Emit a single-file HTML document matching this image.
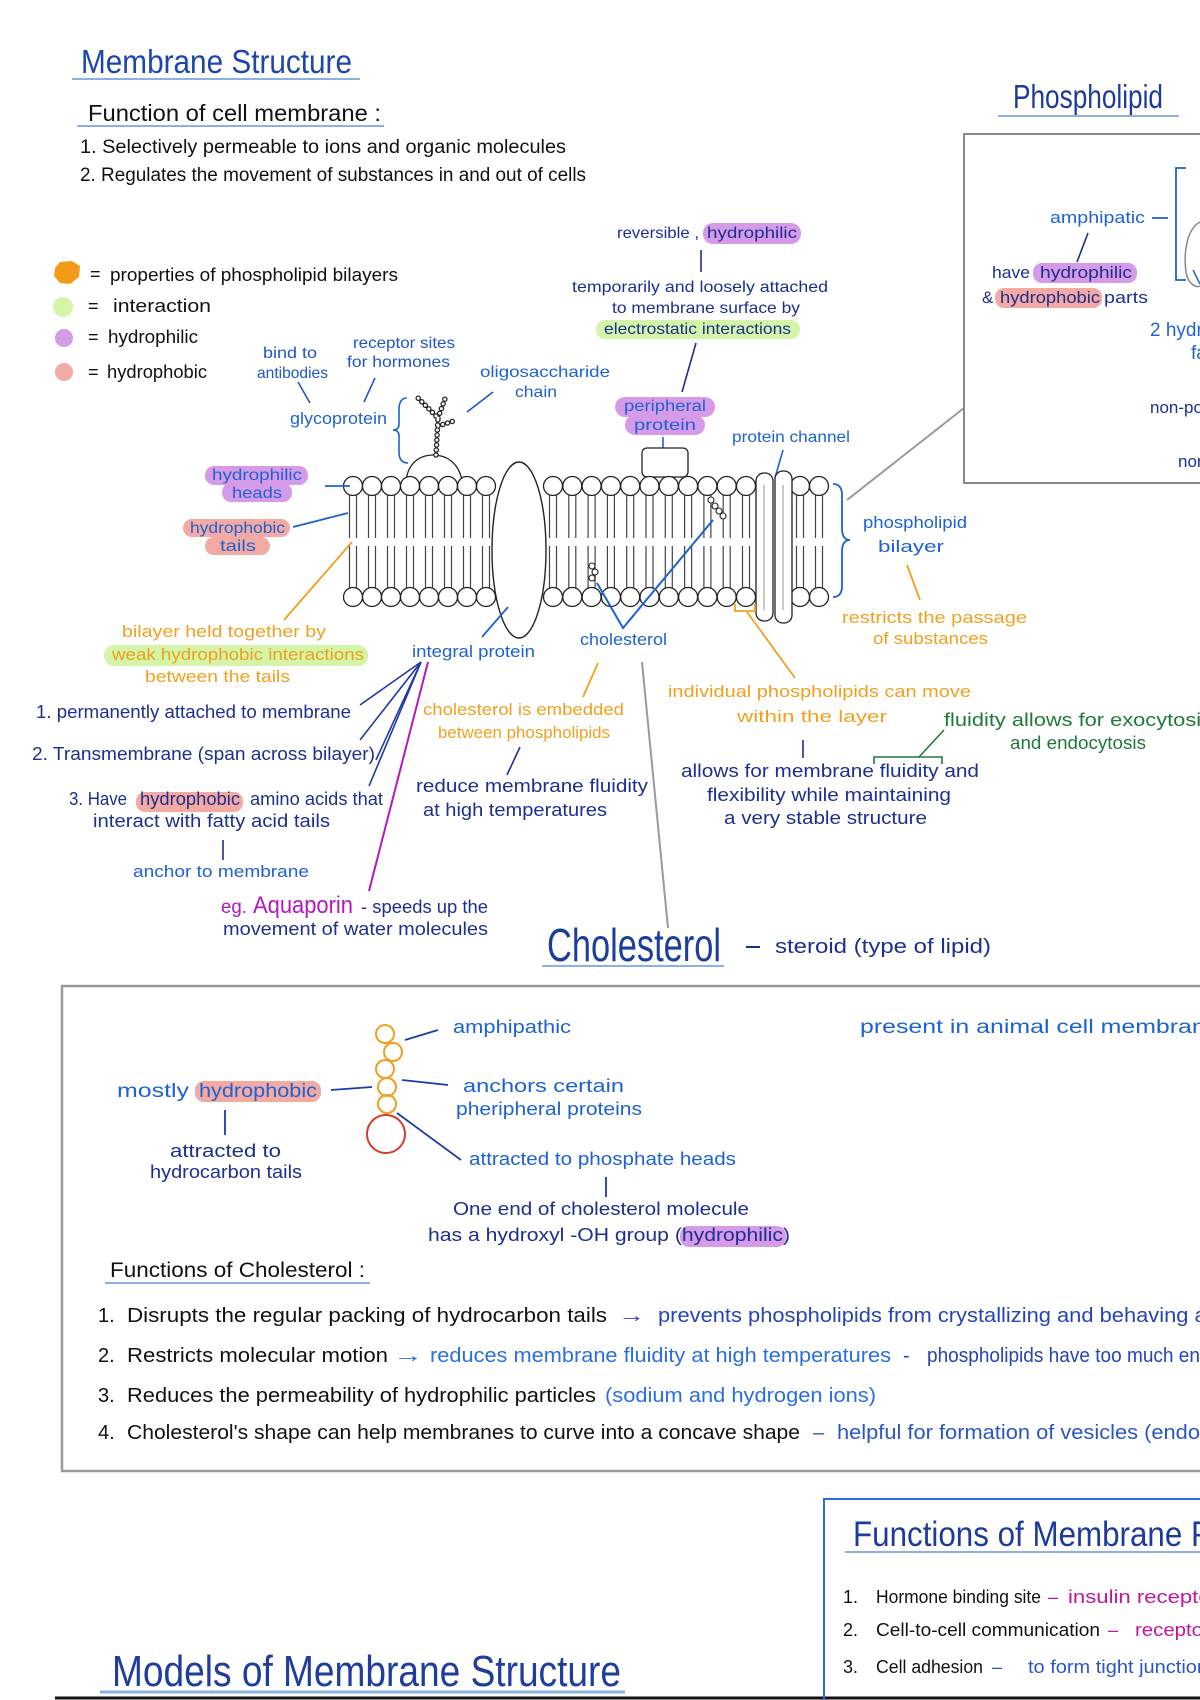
<!DOCTYPE html>
<html><head><meta charset="utf-8"><style>
html,body{margin:0;padding:0;background:#fff;}
svg{display:block;}
text{font-family:"Liberation Sans",sans-serif;}
</style></head><body>
<svg width="1200" height="1700" viewBox="0 0 1200 1700" xmlns="http://www.w3.org/2000/svg">
<defs>
<g id="p">
<line x1="-3.5" y1="495" x2="-3.5" y2="538" stroke="#444" stroke-width="1.2"/>
<line x1="3.5" y1="495" x2="3.5" y2="538" stroke="#444" stroke-width="1.2"/>
<line x1="-3.5" y1="546" x2="-3.5" y2="588" stroke="#444" stroke-width="1.2"/>
<line x1="3.5" y1="546" x2="3.5" y2="588" stroke="#444" stroke-width="1.2"/>
<circle cx="0" cy="486" r="9.5" fill="#fff" stroke="#222" stroke-width="1.3"/>
<circle cx="0" cy="597" r="9.5" fill="#fff" stroke="#222" stroke-width="1.3"/>
</g>
</defs>
<rect width="1200" height="1700" fill="#fff"/>

<!-- Header -->
<text x="81" y="73" font-size="33" fill="#1c47a8" textLength="271" lengthAdjust="spacingAndGlyphs">Membrane Structure</text>
<line x1="72" y1="79" x2="360" y2="79" stroke="#8db0e2" stroke-width="2"/>
<text x="88" y="121" font-size="23" fill="#111" textLength="293" lengthAdjust="spacingAndGlyphs">Function of cell membrane :</text>
<line x1="77" y1="126" x2="384" y2="126" stroke="#8db0e2" stroke-width="2"/>
<text x="80" y="153" font-size="19" fill="#111" textLength="486" lengthAdjust="spacingAndGlyphs">1. Selectively permeable to ions and organic molecules</text>
<text x="80" y="181" font-size="19" fill="#111" textLength="506" lengthAdjust="spacingAndGlyphs">2. Regulates the movement of substances in and out of cells</text>

<!-- Legend -->
<polygon points="55,268 60,262 72,261 80,266 79,277 70,284 60,283 54,276" fill="#f39a18"/>
<circle cx="63" cy="307" r="10" fill="#d4f5a8"/>
<circle cx="64" cy="338" r="9" fill="#d59be8"/>
<circle cx="64" cy="372" r="9" fill="#f2aaa3"/>
<text x="90" y="280" font-size="18" fill="#111">=</text>
<text x="110" y="281" font-size="18" fill="#111" textLength="288" lengthAdjust="spacingAndGlyphs">properties of phospholipid bilayers</text>
<text x="88" y="312" font-size="18" fill="#111">=</text>
<text x="113" y="312" font-size="18" fill="#111" textLength="98" lengthAdjust="spacingAndGlyphs">interaction</text>
<text x="88" y="343" font-size="18" fill="#111">=</text>
<text x="108" y="343" font-size="18" fill="#111" textLength="90" lengthAdjust="spacingAndGlyphs">hydrophilic</text>
<text x="88" y="378" font-size="18" fill="#111">=</text>
<text x="107" y="378" font-size="18" fill="#111" textLength="100" lengthAdjust="spacingAndGlyphs">hydrophobic</text>

<!-- Glycoprotein labels -->
<g fill="#1f55c8" font-size="16">
<text x="263" y="358" textLength="54" lengthAdjust="spacingAndGlyphs">bind to</text>
<text x="257" y="378" textLength="71" lengthAdjust="spacingAndGlyphs">antibodies</text>
<text x="353" y="348" textLength="102" lengthAdjust="spacingAndGlyphs">receptor sites</text>
<text x="347" y="367" textLength="103" lengthAdjust="spacingAndGlyphs">for hormones</text>
</g>
<g stroke="#1f55c8" stroke-width="1.6">
<line x1="298" y1="382" x2="310" y2="403"/>
<line x1="375" y1="378" x2="364" y2="402"/>
<line x1="467" y1="412" x2="493" y2="392"/>
</g>
<text x="290" y="424" font-size="17" fill="#1d62d2" textLength="97" lengthAdjust="spacingAndGlyphs">glycoprotein</text>
<path d="M407,398 Q399,398 399,410 L399,424 Q399,430 393,430 Q399,430 399,436 L399,452 Q399,463 408,463" fill="none" stroke="#1d62d2" stroke-width="1.6"/>
<text x="480" y="377" font-size="16" fill="#1d62d2" textLength="130" lengthAdjust="spacingAndGlyphs">oligosaccharide</text>
<text x="515" y="397" font-size="16" fill="#1d62d2" textLength="42" lengthAdjust="spacingAndGlyphs">chain</text>

<!-- Peripheral protein labels -->
<text x="617" y="238" font-size="16" fill="#1b2f90" textLength="82" lengthAdjust="spacingAndGlyphs">reversible ,</text>
<rect x="703" y="223" width="98" height="21" rx="10" fill="#d59be8"/>
<text x="707" y="238" font-size="16" fill="#1b2f90" textLength="90" lengthAdjust="spacingAndGlyphs">hydrophilic</text>
<line x1="701" y1="250" x2="701" y2="272" stroke="#1b2f90" stroke-width="1.6"/>
<text x="572" y="292" font-size="16" fill="#1b2f90" textLength="256" lengthAdjust="spacingAndGlyphs">temporarily and loosely attached</text>
<text x="612" y="313" font-size="16" fill="#1b2f90" textLength="188" lengthAdjust="spacingAndGlyphs">to membrane surface by</text>
<rect x="596" y="320" width="204" height="19" rx="9" fill="#d4f5a8"/>
<text x="604" y="334" font-size="16" fill="#1b2f90" textLength="187" lengthAdjust="spacingAndGlyphs">electrostatic interactions</text>
<line x1="696" y1="343" x2="682" y2="392" stroke="#1b2f90" stroke-width="1.6"/>
<rect x="615" y="397" width="100" height="20" rx="10" fill="#d59be8"/>
<rect x="625" y="415" width="80" height="20" rx="10" fill="#d59be8"/>
<text x="624" y="411" font-size="16" fill="#1d62d2" textLength="82" lengthAdjust="spacingAndGlyphs">peripheral</text>
<text x="634" y="430" font-size="16" fill="#1d62d2" textLength="62" lengthAdjust="spacingAndGlyphs">protein</text>
<line x1="663" y1="437" x2="663" y2="453" stroke="#1d62d2" stroke-width="1.6"/>
<text x="732" y="442" font-size="16" fill="#1d62d2" textLength="118" lengthAdjust="spacingAndGlyphs">protein channel</text>
<line x1="783" y1="450" x2="775" y2="478" stroke="#1d62d2" stroke-width="1.6"/>

<!-- Glycoprotein bump -->
<path d="M406,480 C409,460 423,455 433,455 C446,455 458,462 462,480" fill="#fff" stroke="#222" stroke-width="1.3"/>
<!-- Peripheral protein rect -->
<rect x="642" y="448" width="46" height="29" rx="5" fill="#fff" stroke="#222" stroke-width="1.3"/>

<!-- Membrane -->
<use href="#p" x="353"/><use href="#p" x="372"/><use href="#p" x="391"/><use href="#p" x="410"/>
<use href="#p" x="429"/><use href="#p" x="448"/><use href="#p" x="467"/><use href="#p" x="486"/>
<use href="#p" x="553"/><use href="#p" x="572.3"/><use href="#p" x="591.6"/><use href="#p" x="610.9"/>
<use href="#p" x="630.2"/><use href="#p" x="649.5"/><use href="#p" x="668.8"/><use href="#p" x="688.1"/>
<use href="#p" x="707.4"/><use href="#p" x="726.7"/><use href="#p" x="746"/>
<use href="#p" x="800"/><use href="#p" x="819"/>
<ellipse cx="519" cy="550" rx="27" ry="88" fill="#fff" stroke="#222" stroke-width="1.4"/>
<rect x="756" y="473" width="17" height="148" rx="8" fill="#fff" stroke="#222" stroke-width="1.3"/>
<rect x="775" y="471" width="17" height="152" rx="8" fill="#fff" stroke="#222" stroke-width="1.3"/>
<line x1="764" y1="485" x2="764" y2="610" stroke="#777" stroke-width="0.8"/>
<line x1="783" y1="485" x2="783" y2="610" stroke="#777" stroke-width="0.8"/>

<!-- Glycoprotein chain -->
<g fill="none" stroke-linecap="round">
<path d="M436,455 L438,418 L417,397 M438,418 L446,396 M438,426 L457,420" stroke="#222" stroke-width="5.5" stroke-dasharray="0 5"/>
<path d="M436,455 L438,418 L417,397 M438,418 L446,396 M438,426 L457,420" stroke="#fff" stroke-width="3" stroke-dasharray="0 5"/>
</g>
<!-- small cholesterol in membrane -->
<g fill="#fff" stroke="#222" stroke-width="1.1">
<circle cx="592" cy="566" r="3"/><circle cx="595" cy="572" r="3"/><circle cx="592" cy="578" r="3"/>
<circle cx="711" cy="500" r="3"/><circle cx="715" cy="506" r="3"/><circle cx="719" cy="511" r="3"/><circle cx="723" cy="516" r="3"/>
</g>
<polyline points="597,583 623,628 713,520" fill="none" stroke="#1d62d2" stroke-width="2"/>
<text x="580" y="645" font-size="17" fill="#1d62d2" textLength="87" lengthAdjust="spacingAndGlyphs">cholesterol</text>

<!-- Bilayer brace and labels -->
<path d="M833,484 Q842,484 842,495 L842,528 Q842,540 850,540 Q842,540 842,552 L842,586 Q842,597 833,597" fill="none" stroke="#1d62d2" stroke-width="1.8"/>
<text x="863" y="528" font-size="17" fill="#1d62d2" textLength="104" lengthAdjust="spacingAndGlyphs">phospholipid</text>
<text x="878" y="552" font-size="17" fill="#1d62d2" textLength="66" lengthAdjust="spacingAndGlyphs">bilayer</text>
<line x1="847" y1="500" x2="964" y2="408" stroke="#999" stroke-width="2"/>
<line x1="907" y1="565" x2="920" y2="600" stroke="#f0a01e" stroke-width="1.8"/>
<text x="842" y="623" font-size="17" fill="#f0a01e" textLength="185" lengthAdjust="spacingAndGlyphs">restricts the passage</text>
<text x="873" y="644" font-size="17" fill="#f0a01e" textLength="115" lengthAdjust="spacingAndGlyphs">of substances</text>

<!-- Left heads/tails labels -->
<rect x="205" y="466" width="103" height="19" rx="9" fill="#d59be8"/>
<rect x="222" y="483" width="70" height="19" rx="9" fill="#d59be8"/>
<text x="212" y="480" font-size="16" fill="#1d62d2" textLength="90" lengthAdjust="spacingAndGlyphs">hydrophilic</text>
<text x="232" y="498" font-size="16" fill="#1d62d2" textLength="50" lengthAdjust="spacingAndGlyphs">heads</text>
<line x1="325" y1="486" x2="350" y2="486" stroke="#1d62d2" stroke-width="1.8"/>
<rect x="183" y="519" width="107" height="18" rx="9" fill="#f2aaa3"/>
<rect x="205" y="537" width="65" height="18" rx="9" fill="#f2aaa3"/>
<text x="190" y="533" font-size="16" fill="#1d62d2" textLength="95" lengthAdjust="spacingAndGlyphs">hydrophobic</text>
<text x="220" y="551" font-size="16" fill="#1d62d2" textLength="36" lengthAdjust="spacingAndGlyphs">tails</text>
<line x1="293" y1="527" x2="348" y2="513" stroke="#1d62d2" stroke-width="1.8"/>
<line x1="352" y1="542" x2="284" y2="620" stroke="#f0a01e" stroke-width="1.8"/>

<text x="122" y="637" font-size="17" fill="#f0a01e" textLength="204" lengthAdjust="spacingAndGlyphs">bilayer held together by</text>
<rect x="104" y="645" width="264" height="21" rx="10" fill="#d4f5a8"/>
<text x="112" y="660" font-size="17" fill="#f0a01e" textLength="252" lengthAdjust="spacingAndGlyphs">weak hydrophobic interactions</text>
<text x="145" y="682" font-size="17" fill="#f0a01e" textLength="145" lengthAdjust="spacingAndGlyphs">between the tails</text>

<text x="412" y="657" font-size="17" fill="#1d62d2" textLength="123" lengthAdjust="spacingAndGlyphs">integral protein</text>
<line x1="508" y1="607" x2="482" y2="637" stroke="#1d62d2" stroke-width="1.8"/>
<g stroke="#1d3aa8" stroke-width="1.6">
<line x1="421" y1="662" x2="360" y2="705"/>
<line x1="421" y1="662" x2="360" y2="740"/>
<line x1="421" y1="662" x2="376" y2="760"/>
<line x1="421" y1="662" x2="369" y2="786"/>
</g>
<line x1="428" y1="662" x2="369" y2="891" stroke="#b517c0" stroke-width="2"/>

<g fill="#1d2f8f" font-size="18">
<text x="36" y="718" textLength="315" lengthAdjust="spacingAndGlyphs">1. permanently attached to membrane</text>
<text x="32" y="760" textLength="343" lengthAdjust="spacingAndGlyphs">2. Transmembrane (span across bilayer)</text>
<text x="69" y="805" textLength="58" lengthAdjust="spacingAndGlyphs">3. Have</text>
</g>
<rect x="136" y="792" width="107" height="20" rx="9" fill="#f2aaa3"/>
<g fill="#1d2f8f" font-size="18">
<text x="140" y="805" textLength="100" lengthAdjust="spacingAndGlyphs">hydrophobic</text>
<text x="250" y="805" textLength="133" lengthAdjust="spacingAndGlyphs">amino acids that</text>
<text x="93" y="827" textLength="237" lengthAdjust="spacingAndGlyphs">interact with fatty acid tails</text>
</g>
<line x1="223" y1="840" x2="223" y2="860" stroke="#1d2f8f" stroke-width="1.6"/>
<text x="133" y="877" font-size="17" fill="#1d62d2" textLength="176" lengthAdjust="spacingAndGlyphs">anchor to membrane</text>
<text x="221" y="913" font-size="19" fill="#b517c0" textLength="26" lengthAdjust="spacingAndGlyphs">eg.</text>
<text x="253" y="913" font-size="24" fill="#b517c0" textLength="100" lengthAdjust="spacingAndGlyphs">Aquaporin</text>
<text x="361" y="913" font-size="18" fill="#1d2f8f" textLength="127" lengthAdjust="spacingAndGlyphs">- speeds up the</text>
<text x="223" y="935" font-size="18" fill="#1d2f8f" textLength="265" lengthAdjust="spacingAndGlyphs">movement of water molecules</text>

<!-- Cholesterol middle labels -->
<text x="423" y="715" font-size="17" fill="#f0a01e" textLength="201" lengthAdjust="spacingAndGlyphs">cholesterol is embedded</text>
<text x="438" y="738" font-size="17" fill="#f0a01e" textLength="172" lengthAdjust="spacingAndGlyphs">between phospholipids</text>
<line x1="598" y1="663" x2="583" y2="697" stroke="#f0a01e" stroke-width="1.8"/>
<line x1="520" y1="747" x2="507" y2="775" stroke="#1d2f8f" stroke-width="1.6"/>
<text x="416" y="792" font-size="18" fill="#1d2f8f" textLength="232" lengthAdjust="spacingAndGlyphs">reduce membrane fluidity</text>
<text x="423" y="816" font-size="18" fill="#1d2f8f" textLength="184" lengthAdjust="spacingAndGlyphs">at high temperatures</text>
<line x1="642" y1="662" x2="668" y2="928" stroke="#9a9a9a" stroke-width="2"/>

<!-- Right middle labels -->
<path d="M735,604 L735,611 L755,611 L755,604" fill="none" stroke="#f0a01e" stroke-width="1.8"/>
<line x1="747" y1="612" x2="795" y2="678" stroke="#f0a01e" stroke-width="1.8"/>
<text x="668" y="697" font-size="17" fill="#f0a01e" textLength="303" lengthAdjust="spacingAndGlyphs">individual phospholipids can move</text>
<text x="737" y="722" font-size="17" fill="#f0a01e" textLength="150" lengthAdjust="spacingAndGlyphs">within the layer</text>
<line x1="803" y1="740" x2="803" y2="758" stroke="#1d2f8f" stroke-width="1.6"/>
<text x="681" y="777" font-size="18" fill="#1d2f8f" textLength="298" lengthAdjust="spacingAndGlyphs">allows for membrane fluidity and</text>
<text x="707" y="801" font-size="18" fill="#1d2f8f" textLength="244" lengthAdjust="spacingAndGlyphs">flexibility while maintaining</text>
<text x="724" y="824" font-size="18" fill="#1d2f8f" textLength="203" lengthAdjust="spacingAndGlyphs">a very stable structure</text>
<path d="M874,764 L874,757 L942,757 L942,764" fill="none" stroke="#1d7a3a" stroke-width="1.6"/>
<line x1="919" y1="757" x2="944" y2="730" stroke="#1d7a3a" stroke-width="1.6"/>
<text x="944" y="726" font-size="18" fill="#1d7a3a" textLength="268" lengthAdjust="spacingAndGlyphs">fluidity allows for exocytosis</text>
<text x="1010" y="749" font-size="18" fill="#1d7a3a" textLength="136" lengthAdjust="spacingAndGlyphs">and endocytosis</text>

<!-- Cholesterol title -->
<text x="547" y="961" font-size="46" fill="#1b3e9e" textLength="174" lengthAdjust="spacingAndGlyphs">Cholesterol</text>
<line x1="542" y1="966" x2="724" y2="966" stroke="#8db0e2" stroke-width="2"/>
<line x1="746" y1="947" x2="760" y2="947" stroke="#1d2f8f" stroke-width="2"/>
<text x="775" y="953" font-size="20" fill="#1d2f8f" textLength="216" lengthAdjust="spacingAndGlyphs">steroid (type of lipid)</text>

<!-- Cholesterol box -->
<rect x="62" y="986" width="1160" height="485" fill="none" stroke="#9a9a9a" stroke-width="2.5"/>
<text x="860" y="1033" font-size="19" fill="#1d62d2" textLength="372" lengthAdjust="spacingAndGlyphs">present in animal cell membranes</text>
<g fill="none" stroke="#f0a01e" stroke-width="2">
<circle cx="385" cy="1034" r="9"/><circle cx="393" cy="1052" r="9"/><circle cx="385" cy="1069" r="9"/>
<circle cx="387" cy="1087" r="9"/><circle cx="387" cy="1104" r="9"/>
</g>
<circle cx="386" cy="1134" r="19" fill="none" stroke="#d83a2a" stroke-width="2"/>
<g stroke="#1d3aa8" stroke-width="1.8">
<line x1="405" y1="1040" x2="438" y2="1030"/>
<line x1="402" y1="1080" x2="448" y2="1085"/>
<line x1="397" y1="1113" x2="461" y2="1160"/>
<line x1="606" y1="1177" x2="606" y2="1197"/>
<line x1="331" y1="1090" x2="372" y2="1087"/>
<line x1="225" y1="1110" x2="225" y2="1135"/>
</g>
<text x="453" y="1033" font-size="18" fill="#1d62d2" textLength="118" lengthAdjust="spacingAndGlyphs">amphipathic</text>
<text x="463" y="1092" font-size="18" fill="#1d62d2" textLength="161" lengthAdjust="spacingAndGlyphs">anchors certain</text>
<text x="456" y="1115" font-size="18" fill="#1d62d2" textLength="186" lengthAdjust="spacingAndGlyphs">pheripheral proteins</text>
<text x="469" y="1165" font-size="18" fill="#1d62d2" textLength="267" lengthAdjust="spacingAndGlyphs">attracted to phosphate heads</text>
<text x="453" y="1215" font-size="18" fill="#1d2f8f" textLength="296" lengthAdjust="spacingAndGlyphs">One end of cholesterol molecule</text>
<rect x="680" y="1226" width="106" height="21" rx="9" fill="#d59be8"/>
<text x="428" y="1241" font-size="18" fill="#1d2f8f" textLength="362" lengthAdjust="spacingAndGlyphs">has a hydroxyl -OH group (hydrophilic)</text>
<rect x="195" y="1081" width="126" height="21" rx="9" fill="#f2aaa3"/>
<text x="117" y="1097" font-size="19" fill="#1d62d2" textLength="72" lengthAdjust="spacingAndGlyphs">mostly</text>
<text x="199" y="1097" font-size="19" fill="#1d62d2" textLength="118" lengthAdjust="spacingAndGlyphs">hydrophobic</text>
<text x="170" y="1157" font-size="18" fill="#1d2f8f" textLength="111" lengthAdjust="spacingAndGlyphs">attracted to</text>
<text x="150" y="1178" font-size="18" fill="#1d2f8f" textLength="152" lengthAdjust="spacingAndGlyphs">hydrocarbon tails</text>

<text x="110" y="1277" font-size="21" fill="#111" textLength="255" lengthAdjust="spacingAndGlyphs">Functions of Cholesterol :</text>
<line x1="105" y1="1283" x2="370" y2="1283" stroke="#8db0e2" stroke-width="2"/>

<g font-size="20">
<text x="98" y="1322" fill="#111">1.</text>
<text x="127" y="1322" fill="#111" textLength="480" lengthAdjust="spacingAndGlyphs">Disrupts the regular packing of hydrocarbon tails</text>
<text x="618" y="1322" fill="#2545b5" textLength="27" lengthAdjust="spacingAndGlyphs">→</text>
<text x="658" y="1322" fill="#2545b5" textLength="629" lengthAdjust="spacingAndGlyphs">prevents phospholipids from crystallizing and behaving as a solid</text>

<text x="98" y="1362" fill="#111">2.</text>
<text x="127" y="1362" fill="#111" textLength="261" lengthAdjust="spacingAndGlyphs">Restricts molecular motion</text>
<text x="393" y="1362" fill="#2a6ee0" textLength="30" lengthAdjust="spacingAndGlyphs">→</text>
<text x="430" y="1362" fill="#2a6ee0" textLength="461" lengthAdjust="spacingAndGlyphs">reduces membrane fluidity at high temperatures</text>
<text x="903" y="1362" fill="#2545b5">-</text>
<text x="927" y="1362" fill="#2545b5" textLength="310" lengthAdjust="spacingAndGlyphs">phospholipids have too much energy</text>

<text x="98" y="1402" fill="#111">3.</text>
<text x="127" y="1402" fill="#111" textLength="469" lengthAdjust="spacingAndGlyphs">Reduces the permeability of hydrophilic particles</text>
<text x="605" y="1402" fill="#2a6ee0" textLength="271" lengthAdjust="spacingAndGlyphs">(sodium and hydrogen ions)</text>

<text x="98" y="1439" fill="#111">4.</text>
<text x="127" y="1439" fill="#111" textLength="673" lengthAdjust="spacingAndGlyphs">Cholesterol's shape can help membranes to curve into a concave shape</text>
<text x="813" y="1439" fill="#2a55c5">–</text>
<text x="837" y="1439" fill="#2a55c5" textLength="437" lengthAdjust="spacingAndGlyphs">helpful for formation of vesicles (endocytosis)</text>
</g>

<!-- Phospholipid box -->
<text x="1013" y="108" font-size="33" fill="#1d3b9a" textLength="150" lengthAdjust="spacingAndGlyphs">Phospholipid</text>
<line x1="998" y1="116" x2="1179" y2="116" stroke="#8db0e2" stroke-width="2"/>
<rect x="964" y="134" width="260" height="349" fill="none" stroke="#888" stroke-width="2"/>
<text x="1050" y="223" font-size="17" fill="#1d62d2" textLength="95" lengthAdjust="spacingAndGlyphs">amphipatic</text>
<line x1="1152" y1="218" x2="1168" y2="218" stroke="#1d62d2" stroke-width="1.8"/>
<path d="M1186,168 L1176,168 L1176,280 L1186,280" fill="none" stroke="#1d62d2" stroke-width="1.8"/>
<path d="M1200,222 C1188,228 1183,250 1186,272 C1188,284 1196,288 1200,286" fill="none" stroke="#888" stroke-width="1.5"/>
<line x1="1193" y1="270" x2="1200" y2="284" stroke="#1d62d2" stroke-width="1.5"/>
<line x1="1088" y1="233" x2="1077" y2="262" stroke="#1d2f8f" stroke-width="1.6"/>
<text x="992" y="278" font-size="17" fill="#1d2f8f" textLength="38" lengthAdjust="spacingAndGlyphs">have</text>
<rect x="1033" y="263" width="104" height="20" rx="9" fill="#d59be8"/>
<text x="1040" y="278" font-size="17" fill="#1d2f8f" textLength="92" lengthAdjust="spacingAndGlyphs">hydrophilic</text>
<text x="982" y="303" font-size="17" fill="#1d2f8f">&amp;</text>
<rect x="995" y="288" width="107" height="20" rx="9" fill="#f2aaa3"/>
<text x="1000" y="303" font-size="17" fill="#1d2f8f" textLength="100" lengthAdjust="spacingAndGlyphs">hydrophobic</text>
<text x="1104" y="303" font-size="17" fill="#1d2f8f" textLength="44" lengthAdjust="spacingAndGlyphs">parts</text>
<text x="1150" y="336" font-size="19" fill="#1d62d2">2 hydrophobic</text>
<text x="1191" y="359" font-size="19" fill="#1d62d2">fatty acid tails</text>
<text x="1150" y="413" font-size="17" fill="#1d2f8f">non-polar</text>
<text x="1178" y="467" font-size="17" fill="#1d2f8f">non</text>

<!-- Bottom -->
<text x="112" y="1686" font-size="44" fill="#1f3d9e" textLength="509" lengthAdjust="spacingAndGlyphs">Models of Membrane Structure</text>
<line x1="100" y1="1692" x2="625" y2="1692" stroke="#8db0e2" stroke-width="3"/>
<line x1="55" y1="1698" x2="1200" y2="1698" stroke="#111" stroke-width="3"/>
<rect x="824" y="1499" width="400" height="220" fill="none" stroke="#2f6bd0" stroke-width="2"/>
<text x="853" y="1546" font-size="35" fill="#1d3b9a" textLength="453" lengthAdjust="spacingAndGlyphs">Functions of Membrane Proteins</text>
<line x1="845" y1="1552" x2="1200" y2="1552" stroke="#8db0e2" stroke-width="2"/>
<g font-size="18">
<text x="843" y="1603" fill="#111">1.</text>
<text x="876" y="1603" fill="#111" textLength="165" lengthAdjust="spacingAndGlyphs">Hormone binding site</text>
<text x="1048" y="1603" fill="#c0169e">–</text>
<text x="1068" y="1603" fill="#c0169e" textLength="150" lengthAdjust="spacingAndGlyphs">insulin receptor</text>
<text x="843" y="1636" fill="#111">2.</text>
<text x="876" y="1636" fill="#111" textLength="224" lengthAdjust="spacingAndGlyphs">Cell-to-cell communication</text>
<text x="1108" y="1636" fill="#c0169e">–</text>
<text x="1135" y="1636" fill="#c0169e" textLength="85" lengthAdjust="spacingAndGlyphs">receptors</text>
<text x="843" y="1673" fill="#111">3.</text>
<text x="876" y="1673" fill="#111" textLength="107" lengthAdjust="spacingAndGlyphs">Cell adhesion</text>
<text x="992" y="1673" fill="#2a55c5">–</text>
<text x="1028" y="1673" fill="#2a55c5" textLength="190" lengthAdjust="spacingAndGlyphs">to form tight junctions</text>
</g>
</svg>
</body></html>
